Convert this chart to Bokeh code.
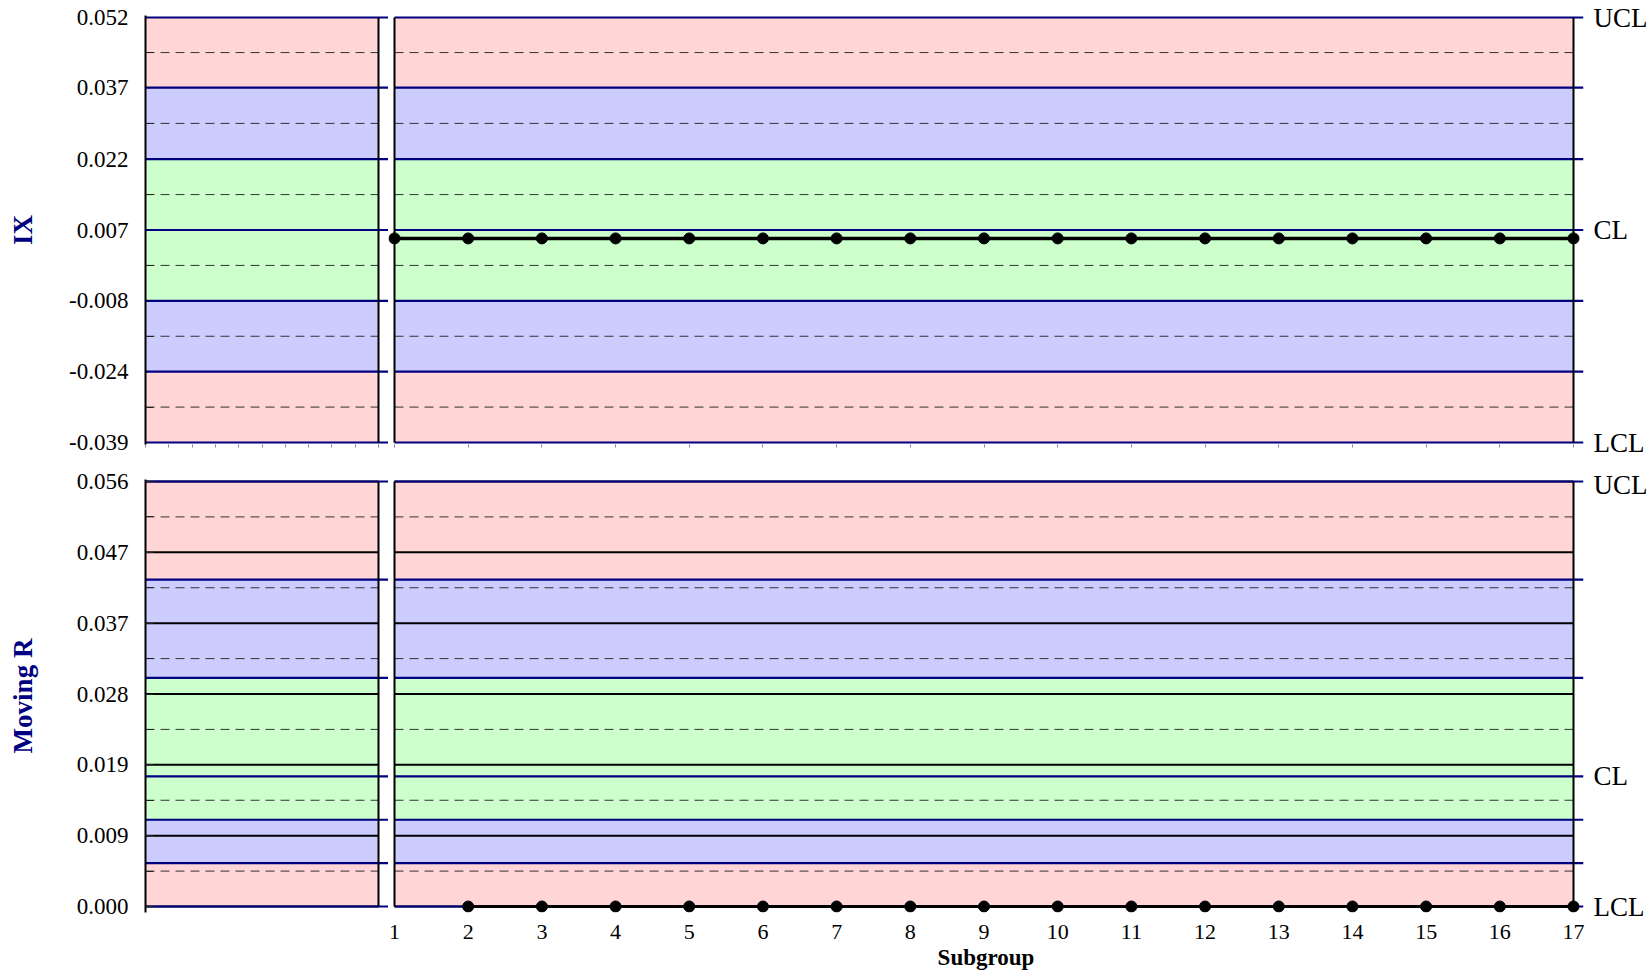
from bokeh.plotting import figure
from bokeh.layouts import row, column
from bokeh.models import Range1d, FixedTicker, PrintfTickFormatter
from bokeh.embed import file_html
from bokeh.resources import INLINE

# ---------------- data ----------------
subgroups = [1, 2, 3, 4, 5, 6, 7, 8, 9, 10, 11, 12, 13, 14, 15, 16, 17]
ix_values = [0.0049, 0.0049, 0.0049, 0.0049, 0.0049, 0.0049, 0.0049, 0.0049, 0.0049,
             0.0049, 0.0049, 0.0049, 0.0049, 0.0049, 0.0049, 0.0049, 0.0049]
mr_subgroups = [2, 3, 4, 5, 6, 7, 8, 9, 10, 11, 12, 13, 14, 15, 16, 17]
mr_values = [0.0, 0.0, 0.0, 0.0, 0.0, 0.0, 0.0, 0.0,
             0.0, 0.0, 0.0, 0.0, 0.0, 0.0, 0.0, 0.0]

# IX chart zone boundaries (LCL, -2s, -1s, CL, +1s, +2s, UCL)
ix_bounds = [-0.03875, -0.0236, -0.00845, 0.0067, 0.02185, 0.03715, 0.05215]
ix_zone_kind = ["red", "blue", "green", "green", "blue", "red"]
ix_limits = [-0.03875, 0.0067, 0.05215]
ix_ticks = [-0.03875, -0.0236, -0.00845, 0.0067, 0.02185, 0.03715, 0.05215]

# Moving R chart zone boundaries
mr_bounds = [0.0, 0.00572, 0.01143, 0.01715, 0.03012, 0.04308, 0.0560]
mr_zone_kind = ["red", "blue", "green", "green", "blue", "red"]
mr_limits = [0.0, 0.01715, 0.0560]
mr_ticks = [0.0, 0.00933, 0.01867, 0.0280, 0.03733, 0.04667, 0.0560]

# histogram side panel (empty) tick positions
hist_ticks = [0.0, 0.1, 0.2, 0.3, 0.4, 0.5, 0.6, 0.7, 0.8, 0.9, 1.0]

limit_names = ["LCL", "CL", "UCL"]
x_title = "Subgroup"
ix_title = "IX"
mr_title = "Moving R"

# ---------------- styles ----------------
ZONE_COLORS = {"red": "#FFD5D5", "blue": "#CCCCFF", "green": "#CCFFCC"}
NAVY = "#000080"
FONT = "Liberation Serif"
SPAN_PX = 425.0                 # pixels between LCL and UCL
UNIT_PX = (1573 - 394) / 16.0   # pixels per subgroup


def mids(v):
    return [(a + b) / 2 for a, b in zip(v[:-1], v[1:])]


def yrange(lo, hi, pad_top, pad_bot):
    s = (hi - lo) / SPAN_PX
    return Range1d(lo - pad_bot * s, hi + pad_top * s), s


def base_fig(width, height, xr, yr, mbl, mbr, mbt, mbb, yloc, xloc):
    p = figure(width=width, height=height, x_range=xr, y_range=yr,
               output_backend="svg", toolbar_location=None,
               x_axis_location=xloc, y_axis_location=yloc,
               min_border_left=mbl, min_border_right=mbr,
               min_border_top=mbt, min_border_bottom=mbb,
               background_fill_color="white", border_fill_color="white")
    p.outline_line_color = None
    p.grid.visible = False
    return p


def draw_zones(p, x0, x1, x_blue0, x_blue1, bounds, kinds, ticks, grid_lines, edges):
    lo, hi = bounds[0], bounds[-1]
    p.quad(left=[x0] * len(kinds), right=[x1] * len(kinds),
           bottom=bounds[:-1], top=bounds[1:],
           fill_color=[ZONE_COLORS[k] for k in kinds], line_color=None)
    dm = mids(ticks)
    p.segment(x0=[x0] * len(dm), x1=[x1] * len(dm), y0=dm, y1=dm,
              line_color="#333333", line_width=1, line_dash="9 6")
    if grid_lines:
        p.segment(x0=[x0] * len(ticks), x1=[x1] * len(ticks), y0=ticks, y1=ticks,
                  line_color="black", line_width=2)
    p.segment(x0=[x_blue0] * len(bounds), x1=[x_blue1] * len(bounds),
              y0=bounds, y1=bounds, line_color=NAVY, line_width=2.2)
    p.segment(x0=edges, x1=edges, y0=[lo] * len(edges), y1=[hi] * len(edges),
              line_color="black", line_width=2)


def style_left_axis(p, ticks, title, title_standoff, major_in):
    ax = p.yaxis[0]
    ax.ticker = FixedTicker(ticks=ticks, minor_ticks=mids(ticks))
    ax.formatter = PrintfTickFormatter(format="%.3f")
    ax.major_tick_in = major_in
    ax.major_tick_out = 0
    ax.minor_tick_in = 8
    ax.minor_tick_out = 0
    ax.major_tick_line_color = "#222222"
    ax.minor_tick_line_color = "#222222"
    ax.axis_line_color = "black"
    ax.axis_line_width = 2
    ax.major_label_standoff = 17
    ax.major_label_text_font = FONT
    ax.major_label_text_font_size = "23px"
    ax.major_label_text_color = "black"
    ax.axis_label = title
    ax.axis_label_text_font = FONT
    ax.axis_label_text_font_size = "27px"
    ax.axis_label_text_font_style = "bold"
    ax.axis_label_text_color = NAVY
    ax.axis_label_standoff = title_standoff


def style_right_axis(p, limits):
    ax = p.yaxis[0]
    ax.ticker = FixedTicker(ticks=limits)
    ax.major_label_overrides = {(int(v) if v == int(v) else v): n
                                for v, n in zip(limits, limit_names)}
    ax.major_tick_in = 0
    ax.major_tick_out = 0
    ax.axis_line_color = None
    ax.major_label_standoff = 10
    ax.major_label_text_font = FONT
    ax.major_label_text_font_size = "27px"
    ax.major_label_text_color = "black"


def style_tick_only_axis(p, ticks):
    ax = p.xaxis[0]
    ax.ticker = FixedTicker(ticks=ticks)
    ax.axis_line_color = None
    ax.major_tick_in = 0
    ax.major_tick_out = 3
    ax.major_tick_line_color = "#8080B8"
    ax.major_tick_line_width = 1
    ax.major_label_standoff = 0
    ax.major_label_text_font_size = "1px"
    ax.major_label_text_alpha = 0


# ---------------- geometry (page has no margin) ----------------
LEFT_W = 388          # 0 -> 388
MAIN_W = 1262         # 388 -> 1650
TOP_H = 469           # 0 -> 469
BOT_H = 503           # 469 -> 972

hist_end = (388 - 145) / (378 - 145)   # left panel spans 0..1
x_start = 1 - 6 / UNIT_PX
x_end = 17 + 10 / UNIT_PX

# ---------------- IX row ----------------
yr_a, s_ix = yrange(ix_bounds[0], ix_bounds[-1], 2, 2)
A = base_fig(LEFT_W, TOP_H, Range1d(0, hist_end), yr_a, 145, 0, 15, 25, "left", "below")
draw_zones(A, 0, 1, 0, hist_end, ix_bounds, ix_zone_kind, ix_ticks, False, [1])
style_left_axis(A, ix_ticks, ix_title, 28, 0)
style_tick_only_axis(A, hist_ticks)

yr_b, _ = yrange(ix_bounds[0], ix_bounds[-1], 2, 2)
B = base_fig(MAIN_W, TOP_H, Range1d(x_start, x_end), yr_b, 0, 67, 15, 25, "right", "below")
draw_zones(B, subgroups[0], subgroups[-1], subgroups[0], x_end,
           ix_bounds, ix_zone_kind, ix_ticks, False, [subgroups[0], subgroups[-1]])
B.line(subgroups, ix_values, line_color="black", line_width=3.5)
B.scatter(subgroups, ix_values, size=11, fill_color="black", line_color="black")
style_right_axis(B, ix_limits)
style_tick_only_axis(B, subgroups)

# ---------------- Moving R row ----------------
yr_c, s_mr = yrange(mr_bounds[0], mr_bounds[-1], 2, 6)
C = base_fig(LEFT_W, BOT_H, Range1d(0, hist_end), yr_c, 145, 0, 10, 60, "left", None)
draw_zones(C, 0, 1, 0, hist_end, mr_bounds, mr_zone_kind, mr_ticks, True, [1])
style_left_axis(C, mr_ticks, mr_title, 36, 8)

yr_d, _ = yrange(mr_bounds[0], mr_bounds[-1], 2, 6)
D = base_fig(MAIN_W, BOT_H, Range1d(x_start, x_end), yr_d, 0, 67, 10, 60, "right", "below")
draw_zones(D, subgroups[0], subgroups[-1], subgroups[0], x_end,
           mr_bounds, mr_zone_kind, mr_ticks, True, [subgroups[0], subgroups[-1]])
D.line(mr_subgroups, mr_values, line_color="black", line_width=3)
D.scatter(mr_subgroups, mr_values, size=11, fill_color="black", line_color="black")
style_right_axis(D, mr_limits)

xa = D.xaxis[0]
xa.ticker = FixedTicker(ticks=subgroups)
xa.axis_line_color = None
xa.major_tick_in = 0
xa.major_tick_out = 0
xa.major_label_standoff = 12
xa.major_label_text_font = FONT
xa.major_label_text_font_size = "22px"
xa.major_label_text_color = "black"
xa.axis_label = x_title
xa.axis_label_text_font = FONT
xa.axis_label_text_font_size = "23px"
xa.axis_label_text_font_style = "bold"
xa.axis_label_text_color = "black"
xa.axis_label_standoff = 3

layout = column(row(A, B), row(C, D))
open("out.html", "w").write(file_html(layout, INLINE))
